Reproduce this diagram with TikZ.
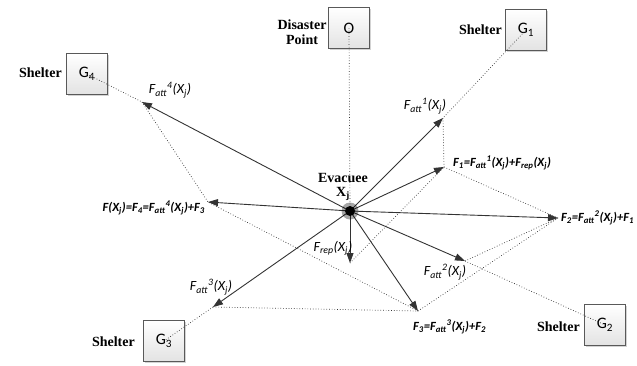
\documentclass[tikz,border=0pt]{standalone}
\usepackage{fontspec}
\setmainfont{Liberation Serif}
\setsansfont{Carlito}
\usetikzlibrary{arrows.meta,shadows}
\definecolor{vecc}{HTML}{333333}
\newcommand{\fatt}[1]{F\textsubscript{att}\textsuperscript{#1}(X\textsubscript{j})}
\newcommand{\frep}{F\textsubscript{rep}(X\textsubscript{j})}

\begin{document}
\begin{tikzpicture}[x=1pt, y=-1pt]
  \tikzset{
    box/.style={draw=gray!70!black, top color=white, bottom color=gray!22, minimum size=41pt, inner sep=0pt,
      drop shadow={shadow xshift=1.5pt, shadow yshift=-1.5pt, opacity=0.35},
      font=\sffamily\fontsize{16}{16}\selectfont},
    tag/.style={font=\bfseries\fontsize{14}{14.5}\selectfont, inner sep=0pt, align=center},
    vec/.style={draw=vecc, line width=0.9pt, -{Triangle[length=10pt,width=7pt]}},
    aux/.style={draw=vecc, dotted, line width=0.7pt},
    flab/.style={font=\sffamily\itshape\fontsize{14}{14}\selectfont, inner sep=0pt},
    slab/.style={font=\sffamily\bfseries\itshape\fontsize{12.5}{13}\selectfont, inner sep=0pt},
    evdot/.style={circle, fill=black, minimum size=10pt, inner sep=0pt}
  }
  \useasboundingbox (0,0) rectangle (637,365);

  % disaster point and shelters
  \node[box] (O) at (349,28) {O};
  \node[box] (G1) at (526,30) {G\textsubscript{1}};
  \node[box] (G2) at (605,325) {G\textsubscript{2}};
  \node[box] (G3) at (164,341) {G\textsubscript{3}};
  \node[box] (G4) at (87,74) {G\textsubscript{4}};
  \node[tag] (dp) at (302,32) {Disaster\\Point};
  \node[tag, anchor=east] (s1) at (502,30) {Shelter};
  \node[tag, anchor=east] (s2) at (580,327) {Shelter};
  \node[tag, anchor=east] (s3) at (135,342) {Shelter};
  \node[tag, anchor=east] (s4) at (62,73) {Shelter};

  % evacuee and force tips
  \coordinate (X) at (350,211);
  \coordinate (fa1) at (443,118);
  \coordinate (f1) at (444,167);
  \coordinate (frep) at (350,263);
  \coordinate (fa2) at (465,261);
  \coordinate (f2) at (558,218);
  \coordinate (fa3) at (213,307);
  \coordinate (f3) at (418,311);
  \coordinate (fa4) at (142,102);
  \coordinate (f4) at (208,202);

  % construction lines
  \draw[aux] (O.center) -- (X);
  \draw[aux] (G1.center) -- (fa1);
  \draw[aux] (fa1) -- (f1);
  \draw[aux] (frep) -- (f1);
  \draw[aux] (f1) -- (f2);
  \draw[aux] (fa2) -- (f2);
  \draw[aux] (fa2) -- (G2.center);
  \draw[aux] (f3) -- (f2);
  \draw[aux] (fa3) -- (f3);
  \draw[aux] (fa3) -- (G3.center);
  \draw[aux] (f3) -- (f4);
  \draw[aux] (fa4) -- (f4);
  \draw[aux] (G4.center) -- (fa4);

  % force vectors
  \foreach \t in {fa1,f1,f2,fa2,f3,frep,fa3,f4,fa4}
    \draw[vec] (X) -- (\t);

  \fill[black, opacity=0.35] (X) circle (8.5);
  \node[evdot] (Xdot) at (X) {};
  \node[tag] (ev) at (343,187) {Evacuee\\X\textsubscript{j}};

  % labels
  \node[flab] (lfa1) at (425,106) {\fatt{1}};
  \node[slab, anchor=west] (lf1) at (453,163) {F\textsubscript{1}=\fatt{1}+\frep};
  \node[slab, anchor=west] (lf2) at (561,218) {F\textsubscript{2}=\fatt{2}+F\textsubscript{1}};
  \node[flab] (lfa2) at (445,272) {\fatt{2}};
  \node[slab, anchor=west] (lf3) at (413,327) {F\textsubscript{3}=\fatt{3}+F\textsubscript{2}};
  \node[flab] (lfa3) at (211,287) {\fatt{3}};
  \node[flab] (lfrep) at (333,248) {\frep};
  \node[slab, anchor=east] (lf4) at (205,208) {F(X\textsubscript{j})=F\textsubscript{4}=\fatt{4}+F\textsubscript{3}};
  \node[flab] (lfa4) at (170,90) {\fatt{4}};
\end{tikzpicture}
\end{document}
